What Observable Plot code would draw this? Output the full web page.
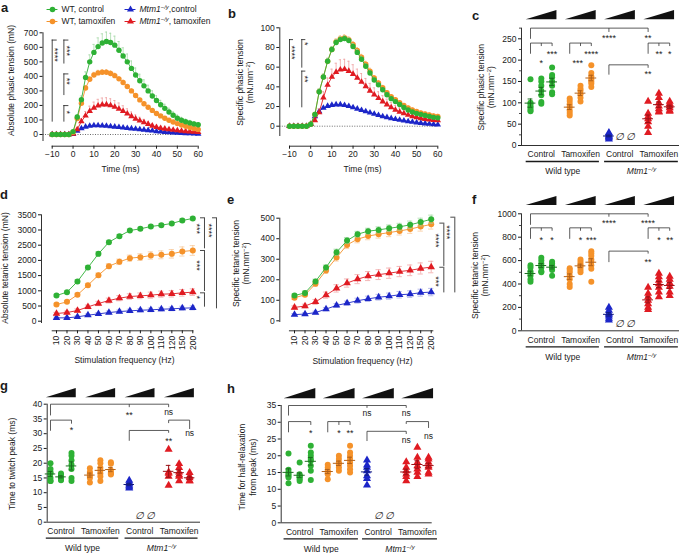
<!DOCTYPE html>
<html><head><meta charset="utf-8">
<script src="https://cdn.jsdelivr.net/npm/d3@7"></script>
<script src="https://cdn.jsdelivr.net/npm/@observablehq/plot@0.6"></script>
<style>
html,body{margin:0;padding:0;background:#fff;}
#fig{position:relative;width:679px;height:553px;overflow:hidden;background:#fff;font-family:"Liberation Sans",Arial,Helvetica,sans-serif;color:#1a1a1a;}
.letter{position:absolute;font-weight:bold;font-size:13px;line-height:normal;}
</style></head><body><div id="fig"></div>
<script>
// ================= DATA =================
const time=[-10,-8,-6,-4,-2,0,2,4,6,8,10,12,14,16,18,20,22,24,26,28,30,32,34,36,38,40,42,44,46,48,50,52,54,56,58,60];
// (a) absolute phasic tension, mN
const absWTctrl=[0,0,0,0,0,20,120,240,393,500,565,605,630,640,633,615,580,540,500,455,410,370,335,300,265,234,205,180,155,132,112,98,88,80,73,67];
const absWTctrlSem=[0,0,0,0,0,5,15,25,38,48,55,60,63,65,64,62,60,57,54,51,48,45,42,39,36,33,30,28,26,24,22,20,18,17,16,15];
const absWTtam=[0,0,0,0,0,15,110,215,320,380,410,424,428,428,420,405,383,358,330,300,268,238,212,188,166,145,128,112,98,86,75,65,56,48,41,35];
const absWTtamSem=[0,0,0,0,0,2,8,12,15,17,18,18,18,18,18,17,16,15,14,13,12,11,10,9,8,7,6,6,5,5,4,4,4,3,3,3];
const absKOctrl=[0,0,0,0,0,3,25,42,53,59,62,62,61,59,56,53,50,47,44,41,38,35,32,29,26,22,19,17,15,13,11,10,8,7,6,5];
const absKOctrlSem=[0,0,0,0,0,1,4,6,7,8,8,8,8,8,8,7,7,7,6,6,6,5,5,5,4,4,4,3,3,3,3,2,2,2,2,2];
const absKOtam=[0,0,0,0,0,5,35,90,130,160,183,198,205,206,200,190,176,160,143,125,108,95,83,72,60,50,44,39,35,31,28,25,22,20,18,16];
const absKOtamSem=[0,0,0,0,0,2,10,20,28,35,40,44,46,47,46,44,41,38,34,30,27,24,21,18,16,14,12,11,10,9,8,7,6,6,5,5];
// (b) specific phasic tension, mN.mm-2
const specWTctrl=[0,0,0,0,0,2,12,35,50,66,78,85,88,89,87,81,75,68,61,54,47,42,37,32,28,25,22,19,16.5,14.5,13,12,11,10,9,8.5];
const specWTctrlSem=[0,0,0,0,0,0.5,2,3,3,3,3,3,3,3,3,3,3,3,2.5,2.5,2.5,2,2,2,2,2,2,2,1.5,1.5,1.5,1.5,1.5,1.5,1.5,1.5];
const specWTtam=[0,0,0,0,0,2,12,35,50,66,78,86,89,90,88,83,77,70,63,56,49,44,39,34,30,27,24,21,18.5,16.5,15,13.5,12.5,11.5,10.5,10];
const specWTtamSem=[0,0,0,0,0,0.5,2,3,3,3,3,3,3,3,3,3,3,3,3,3,2.5,2.5,2.5,2,2,2,2,2,2,2,2,2,2,2,2,2];
const specKOctrl=[0,0,0,0,0,2,10,15,18.5,20.5,21.5,22,22,21.3,20.3,19,17.7,16.3,15,13.7,12.4,11.2,10,9,8,7.2,6.4,5.6,4.9,4.3,3.7,3.2,2.7,2.3,1.9,1.6];
const specKOctrlSem=[0,0,0,0,0,0.3,1,1.5,1.5,1.5,1.5,1.5,1.5,1.5,1.5,1.5,1.5,1.3,1.3,1.2,1.2,1.1,1,1,1,1,0.9,0.9,0.8,0.8,0.7,0.7,0.6,0.6,0.5,0.5];
const specKOtam=[0,0,0,0,0,2,6,14,29,42,50,55,57.5,58,56,53,49,45,40.5,36,32,28.5,25,22,19,16.5,14.5,13,11.5,10,9,8,7.3,6.7,6.2,5.8];
const specKOtamSem=[0,0,0,0,0,0.5,2,4,6,7,8,9,10,10,10,9.5,9,8.5,8,7.5,7,6.5,6,5.5,5,4.5,4,3.5,3,3,2.5,2.5,2,2,2,2];
// (d,e) tetanic tension vs stimulation frequency
const freqs=["10","20","30","40","50","60","70","80","90","100","110","120","150","200"];
const tetAbsWTctrl=[845,955,1306,1767,2216,2600,2798,2984,3039,3116,3160,3215,3314,3379];
const tetAbsWTctrlSem=[40,45,55,60,70,60,55,50,50,50,50,50,55,60];
const tetAbsWTtam=[549,636,867,1185,1514,1810,1953,2074,2107,2161,2183,2216,2293,2326];
const tetAbsWTtamSem=[40,45,55,60,70,80,90,100,110,120,130,140,150,160];
const tetAbsKOctrl=[110,110,143,198,241,285,318,340,362,373,395,406,428,439];
const tetAbsKOctrlSem=[25,30,35,40,45,50,50,55,55,60,60,60,65,65];
const tetAbsKOtam=[252,285,351,472,582,680,757,812,834,856,889,900,933,955];
const tetAbsKOtamSem=[40,45,55,60,70,80,85,90,95,100,100,105,110,110];
const tetSpecWTctrl=[123,136,192,260,334,391,422,437,443,451,458,468,481,495];
const tetSpecWTctrlSem=[8,9,11,12,15,15,14,14,15,16,17,18,19,20];
const tetSpecWTtam=[112,127,180,245,308,370,398,413,422,430,438,447,459,470];
const tetSpecWTtamSem=[8,9,12,14,17,18,18,18,19,20,20,21,22,23];
const tetSpecKOctrl=[30,33,40,57,75,86,98,107,115,120,127,130,137,140];
const tetSpecKOctrlSem=[5,6,7,8,9,10,12,13,14,15,16,16,17,18];
const tetSpecKOtam=[65,72,92,125,158,184,203,218,225,232,240,246,255,262];
const tetSpecKOtamSem=[8,9,12,15,18,20,22,22,24,25,25,26,27,28];
// (c) specific phasic tension per animal, 3 doses
const cWTctrl=[[155,100,97,92,88,83,80],[157,150,140,128,118,102,98],[183,165,160,150,140,125,120]];
const cWTtam=[[110,104,97,90,82,76,70],[140,133,128,120,112,103],[188,170,162,155,150,145,137]];
const cKOctrl=[[30,27,24,22,20,18,15]];
const cKOtam=[[103,75,68,62,55,45,30],[122,112,100,92,86,80,78],[103,98,93,88,82,80]];
// (f) specific tetanic tension
const fWTctrl=[[560,540,510,490,470,440,420],[625,600,575,555,540,510,500],[590,575,560,550,540,520,470]];
const fWTtam=[[535,520,500,470,440,400,375],[610,590,570,555,540,520,500],[680,660,640,610,590,560,530,420]];
const fKOctrl=[[200,175,150,140,125,105,90]];
const fKOtam=[[370,320,290,260,230,200,180],[490,460,430,400,370,330,290],[465,440,410,380,330,300]];
// (g) time to twitch peak, ms
const gWTctrl=[[20,18,17,16.5,15,14,14],[16.5,16,15.8,15.2,14.5,14.2],[23.5,22.5,21,19.5,18,15,14]];
const gWTtam=[[18.3,17,16.5,15.5,15,13.5],[21,20,18.5,17.5,16.5,15.5,14],[20.3,19.8,17.5,16.8,16.5,16.2]];
const gKOctrl=[[14.2,13.5,13,12.5,12,11.5]];
const gKOtam=[[24.7,17,16.5,15.5,12.5],[19.8,18.5,17,16,15.5,14],[16.8,15.5,15,14,14]];
// (h) time for half-relaxation, ms
const hWTctrl=[[20.7,15.8,15,14.5,14,13.5,11.8],[18,14.5,14,13.8,13.5,13,12.5],[23,21,20,19,18.5,17,15.5,12.8]];
const hWTtam=[[17.3,16.5,15.5,15,14.5,13],[20,19,18,17.5,16.5,15.5],[23,21,20,19,18,17,16,15]];
const hKOctrl=[[18.7,17.2,16.5,15.5,14,13.2,11.2]];
const hKOtam=[[18.2,16.5,15.5,14.5,13.8,12.5],[22.5,19.5,18,17,16,15,13.8],[19.5,19,18,17,16.5,15,14.5]];
// labels
const legendLabels=["WT, control","WT, tamoxifen","~{Mtm1}^~{−/y},control","~{Mtm1}^~{−/y}, tamoxifen"];
const treatLabels=["Control","Tamoxifen","Control","Tamoxifen"];
const genoLabels=["Wild type","~{Mtm1}^~{−/y}"];
// significance annotations (line panels: vertical brackets)
const aSig=[{x:-10,y1:650,y2:85,t:"****",ly:549},{x:-4.4,y1:650,y2:485,t:"***",ly:577},{x:-4.4,y1:417,y2:268,t:"**",ly:366},{x:-4.4,y1:199,y2:85,t:"*",ly:153}];
const bSig=[{x:-10,y1:88,y2:18.7,t:"****",ly:75},{x:-4.2,y1:88,y2:59,t:"*",ly:83.7},{x:-4.2,y1:56,y2:18.7,t:"**",ly:48}];
const dSig=[{x:14.115,y1:3401,y2:2381,t:"***",ly:3039},{x:14.115,y1:2326,y2:977,t:"***",ly:1832},{x:14.115,y1:933,y2:461,t:"*",ly:790},{x:15.26,y1:3401,y2:406,t:"****",ly:2984}];
const eSig=[{x:14.2,y1:476,y2:265,t:"****",ly:391},{x:14.2,y1:261,y2:136,t:"***",ly:192},{x:15.245,y1:505,y2:136,t:"****",ly:432}];
// scatter panels: brackets [group,dose]
const cBr=[{a:[0,0],b:[3,0],y:275,ya:250,yb:266,mids:[[2,0]],ym:266},{a:[0,0],b:[0,2],y:240,ya:215,yb:233,mids:[[0,1]],ym:233},{a:[1,0],b:[1,2],y:240,ya:215,yb:233,mids:[[1,1]],ym:233},{a:[2,0],b:[3,0],y:189,ya:166,yb:182},{a:[3,0],b:[3,2],y:240,ya:215,yb:233,mids:[[3,1]],ym:233}];
const cStars=[{at:[2,0],y:258,t:"****"},{at:[3,0],y:258,t:"**"},{at:[0,1],y:199,t:"*"},{at:[0,2],y:219,t:"***"},{at:[1,0.75],y:199,t:"***"},{at:[1,2],y:219,t:"****"},{at:[3,0],y:172,t:"**"},{at:[3,1],y:219,t:"**"},{at:[3,2],y:219,t:"*"}];
const fBr=[{a:[0,0],b:[3,0],y:1000,ya:906,yb:975,mids:[[2,0]],ym:975},{a:[0,0],b:[0,2],y:880,ya:786,yb:855,mids:[[0,1]],ym:855},{a:[1,0],b:[1,2],y:880,ya:786,yb:855,mids:[[1,1]],ym:855},{a:[2,0],b:[3,0],y:681,ya:587,yb:660},{a:[3,0],b:[3,2],y:880,ya:786,yb:855,mids:[[3,1]],ym:855}];
const fStars=[{at:[2,0],y:945,t:"****"},{at:[3,0],y:945,t:"****"},{at:[0,1],y:800,t:"*"},{at:[0,2],y:800,t:"*"},{at:[1,1],y:800,t:"*"},{at:[1,2],y:800,t:"***"},{at:[3,0],y:610,t:"**"},{at:[3,1],y:800,t:"*"},{at:[3,2],y:800,t:"**"}];
const gBr=[{a:[0,0],b:[3,0],y:40,ya:36.2,yb:39,mids:[[2,0]],ym:39},{a:[0,0],b:[0,2],y:34.6,ya:31,yb:33.4},{a:[2,0],b:[3,0],y:31.1,ya:27.6,yb:30.3},{a:[3,0],b:[3,2],y:34.6,ya:33.6,yb:31.6}];
const gStars=[{at:[2,0],y:37.3,t:"**"},{at:[3,0],y:37.3,t:"ns"},{at:[0,2],y:32.1,t:"*"},{at:[3,0],y:28.4,t:"**"},{at:[3,2],y:30,t:"ns"}];
const hBr=[{a:[0,0],b:[3,0],y:35,ya:32,yb:34.3,mids:[[2,0]],ym:34.3},{a:[0,0],b:[0,2],y:30.2,ya:27,yb:29.2},{a:[1,0],b:[1,2],y:30.2,ya:27,yb:29.2,mids:[[1,1]],ym:29.2},{a:[2,0],b:[3,0],y:27.3,ya:24.4,yb:26.5},{a:[3,0],b:[3,2],y:30.2,ya:29.5,yb:28.3}];
const hStars=[{at:[2,0],y:32.6,t:"ns"},{at:[3,0],y:32.6,t:"ns"},{at:[0,2],y:27.6,t:"*"},{at:[1,1],y:27.6,t:"*"},{at:[1,2],y:27.6,t:"**"},{at:[3,0],y:24.6,t:"ns"},{at:[3,2],y:25.8,t:"ns"}];

// ================= STYLE / HELPERS =================
const GREEN="#2eb135",ORANGE="#f5922a",RED="#e01b22",BLUE="#1c26c8";
const LOOK={
  WTctrl:{color:GREEN,light:"#9fd6a0",dark:"#1b6e1f",symbol:"circle"},
  WTtam:{color:ORANGE,light:"#f7c28c",dark:"#b0601a",symbol:"circle"},
  KOctrl:{color:BLUE,light:"#9ea2e2",dark:"#111a7c",symbol:"triangle"},
  KOtam:{color:RED,light:"#ee9a9a",dark:"#9a1016",symbol:"triangle"}};
const GROUPS=["WTctrl","WTtam","KOctrl","KOtam"];
const INK="#1a1a1a";
const FONT='"Liberation Sans", Arial, Helvetica, sans-serif';
const STYLE={background:"transparent",overflow:"visible",fontFamily:FONT,fontSize:"8.5px",color:INK};
const SVGNS="http://www.w3.org/2000/svg";
const fig=document.getElementById("fig");
const lin=(a,b)=>p=>a[1]+(p-a[0])*(b[1]-a[1])/(b[0]-a[0]);

function richText(root){
  const re=/(\^~|\^|~)\{([^}]*)\}/g;
  root.querySelectorAll("text,tspan").forEach(node=>{
    if(node.childElementCount) return;
    const s=node.textContent; if(!/[\^~]\{/.test(s)) return;
    node.textContent="";
    let last=0,m,raised=false;
    const add=(txt,o)=>{
      const t=document.createElementNS(SVGNS,"tspan"); t.textContent=txt;
      if(o.italic) t.setAttribute("font-style","italic");
      if(o.sup){t.setAttribute("font-size","70%"); if(!raised){t.setAttribute("dy","-0.5em");raised=true;}}
      else if(raised){t.setAttribute("dy","0.35em");raised=false;}
      node.appendChild(t);
    };
    re.lastIndex=0;
    while((m=re.exec(s))){
      if(m.index>last) add(s.slice(last,m.index),{});
      add(m[2],{italic:m[1].includes("~"),sup:m[1].startsWith("^")});
      last=re.lastIndex;
    }
    if(last<s.length) add(s.slice(last),{});
  });
}
function mount(svg,left,top){svg.style.position="absolute";svg.style.left=left+"px";svg.style.top=top+"px";fig.appendChild(svg);richText(svg);}
function letter(ch,left,top){const d=document.createElement("div");d.className="letter";d.textContent=ch;d.style.left=left+"px";d.style.top=top+"px";fig.appendChild(d);}

function seriesMarks(xs,v,e,lk,r,cap,twoSided){
  const rows=xs.map((x,i)=>({x,v:v[i],e:e[i]}));
  const m=[
    Plot.ruleX(rows,{x:"x",y1:d=>twoSided?d.v-d.e:d.v,y2:d=>d.v+d.e,stroke:lk.light,strokeWidth:0.7}),
    Plot.ruleY(rows,{y:d=>d.v+d.e,x1:d=>d.x-cap,x2:d=>d.x+cap,stroke:lk.light,strokeWidth:0.7})];
  if(twoSided) m.push(Plot.ruleY(rows,{y:d=>d.v-d.e,x1:d=>d.x-cap,x2:d=>d.x+cap,stroke:lk.light,strokeWidth:0.7}));
  m.push(Plot.line(rows,{x:"x",y:"v",stroke:lk.color,strokeWidth:0.9}));
  m.push(Plot.dot(rows,{x:"x",y:"v",fill:lk.color,symbol:lk.symbol,r}));
  return m;
}
function vBrackets(list,tick,lab){
  return [
    Plot.ruleX(list,{x:"x",y1:"y1",y2:"y2",stroke:INK,strokeWidth:0.8}),
    Plot.ruleY(list,{y:"y1",x1:"x",x2:d=>d.x+tick,stroke:INK,strokeWidth:0.8}),
    Plot.text(list,{x:d=>d.x+lab,y:"ly",text:"t",rotate:90,fontSize:9})];
}
function yTitles(lines,x,y){return lines.map(l=>Plot.text([l.t],{x,y,text:d=>d,rotate:-90,dx:l.dx,fontSize:8.5}));}

// ---------- line panel ----------
function linePanel(c){
  const fx=lin(c.xa,c.xb), fy=lin(c.ya,c.yb);
  const xd=[fx(c.fl),fx(c.fr)], yd=[fy(c.fb),fy(c.ft)];
  const marks=[];
  if(c.zero) marks.push(Plot.ruleY([0],{x1:xd[0],x2:c.xLine[1],stroke:"#444",strokeWidth:0.8,strokeDasharray:"1 1.5"}));
  ["KOctrl","KOtam","WTtam","WTctrl"].forEach(k=>{
    const s=c.series[k]; const lk=LOOK[k];
    marks.push(...seriesMarks(c.xs,s.v,s.e,lk,lk.symbol==="circle"?c.rc:c.rt,c.cap,c.twoSided));
  });
  marks.push(Plot.ruleX([xd[0]],{y1:fy(c.yLineBottomPx),y2:c.yTop,stroke:INK,strokeWidth:0.9}));
  marks.push(Plot.ruleY([yd[0]],{x1:c.xLine[0],x2:c.xLine[1],stroke:INK,strokeWidth:0.9}));
  marks.push(...vBrackets(c.sig,c.tick,c.lab));
  marks.push(...yTitles(c.titles,xd[0],fy(c.titleYpx)));
  marks.push(Plot.text([c.xTitle],{x:fx(c.xTitlePx),y:yd[0],dy:c.xTitleDy,text:d=>d,fontSize:8.5}));
  const svg=Plot.plot({width:c.W,height:c.H,marginLeft:c.fl,marginRight:c.W-c.fr,marginTop:c.ft,marginBottom:c.H-c.fb,
    x:{domain:xd,ticks:c.xTicks,tickFormat:c.xFormat,tickRotate:c.xRotate||0,tickSize:3,tickPadding:2,label:null},
    y:{domain:yd,ticks:c.yTicks,tickFormat:"d",tickSize:3,tickPadding:2,label:null},
    style:STYLE,marks});
  mount(svg,c.left,c.top);
}

// ---------- scatter panel ----------
function scatterPanel(c){
  const pos=(g,k)=>g*c.step+k;
  const fx=p=>(p-c.x0)/c.unit, fy=lin(c.ya,c.yb);
  const xd=[fx(c.fl),fx(c.fr)], yd=[fy(c.fb),fy(c.ft)];
  const ppu=(c.fb-c.ft)/(yd[1]-yd[0]);
  const marks=[];
  marks.push(Plot.ruleX([xd[0]],{y1:0,y2:c.yTop,stroke:INK,strokeWidth:0.9}));
  marks.push(Plot.ruleY([0],{x1:xd[0],x2:fx(c.axisEndPx),stroke:INK,strokeWidth:0.9}));
  if(c.yMinor) marks.push(Plot.ruleY(c.yMinor,{x1:xd[0],x2:xd[0]-2/c.unit,stroke:INK,strokeWidth:0.8}));
  const yb=yd[1]+c.wedgeGap/ppu, yt=yb+c.wedgeH/ppu;
  const wedges=[0,1,2,3].flatMap(g=>[{id:g,x:pos(g,0)-0.4,y1:yb,y2:yb},{id:g,x:pos(g,0)+2.45,y1:yb,y2:yt}]);
  marks.push(Plot.area(wedges,{x1:"x",y1:"y1",y2:"y2",z:"id",fill:"#111"}));
  c.groups.forEach((vals,g)=>{
    const lk=LOOK[GROUPS[g]];
    const rows=vals.flatMap((arr,k)=>arr.map(v=>({x:pos(g,k),v})));
    marks.push(Plot.dot(rows,{x:"x",y:"v",fill:lk.color,symbol:lk.symbol,r:3}));
    const st=vals.map((arr,k)=>({x:pos(g,k),m:d3.mean(arr),s:d3.deviation(arr)/Math.sqrt(arr.length)}));
    marks.push(Plot.ruleY(st,{y:"m",x1:d=>d.x-0.5,x2:d=>d.x+0.5,stroke:lk.dark,strokeWidth:1}));
    marks.push(Plot.ruleX(st,{x:"x",y1:d=>d.m-d.s,y2:d=>d.m+d.s,stroke:lk.dark,strokeWidth:1}));
    marks.push(Plot.ruleY(st,{y:d=>d.m+d.s,x1:d=>d.x-0.22,x2:d=>d.x+0.22,stroke:lk.dark,strokeWidth:1}));
    marks.push(Plot.ruleY(st,{y:d=>d.m-d.s,x1:d=>d.x-0.22,x2:d=>d.x+0.22,stroke:lk.dark,strokeWidth:1}));
  });
  marks.push(Plot.text([1,2],{x:k=>pos(2,k),y:c.emptyY,text:()=>"∅",fontSize:10,fontStyle:"italic"}));
  const segs=[];
  c.brackets.forEach(d=>{
    const xa=pos(...d.a), xb=pos(...d.b);
    segs.push({x1:xa,x2:xb,y1:d.y,y2:d.y},{x1:xa,x2:xa,y1:d.y,y2:d.ya},{x1:xb,x2:xb,y1:d.y,y2:d.yb});
    (d.mids||[]).forEach(mm=>{const xm=pos(...mm);segs.push({x1:xm,x2:xm,y1:d.y,y2:d.ym});});
  });
  marks.push(Plot.link(segs,{x1:"x1",x2:"x2",y1:"y1",y2:"y2",stroke:"#333",strokeWidth:0.8}));
  marks.push(Plot.text(c.stars.filter(d=>d.t!=="ns"),{x:d=>pos(...d.at),y:"y",text:"t",fontSize:9,dy:2.5}));
  marks.push(Plot.text(c.stars.filter(d=>d.t==="ns"),{x:d=>pos(...d.at),y:"y",text:"t",fontSize:8.5}));
  marks.push(Plot.text(treatLabels,{x:(d,i)=>pos(i,1),y:0,dy:9,text:d=>d,fontSize:8.5}));
  const ul=[{x1:pos(0,0)-0.4,x2:pos(1,2)+0.75,t:genoLabels[0]},{x1:pos(2,0)-0.4,x2:pos(3,2)+0.8,t:genoLabels[1]}];
  marks.push(Plot.ruleY(ul,{y:0,x1:"x1",x2:"x2",dy:16,stroke:INK,strokeWidth:1.3}));
  marks.push(Plot.text(ul,{x:d=>(d.x1+d.x2)/2,y:0,dy:26,text:"t",fontSize:8.5}));
  marks.push(...yTitles(c.titles,xd[0],fy(c.titleYpx)));
  const svg=Plot.plot({width:c.W,height:c.H,marginLeft:c.fl,marginRight:c.W-c.fr,marginTop:c.ft,marginBottom:c.H-c.fb,
    x:{domain:xd,axis:null},
    y:{domain:yd,ticks:c.yTicks,tickFormat:"d",tickSize:3,tickPadding:2,label:null},
    style:STYLE,marks});
  mount(svg,c.left,c.top);
}

// ================= PANELS =================
// a
linePanel({left:0,top:0,W:225,H:185,fl:42.5,fr:200,ft:32.3,fb:145.7,
  xa:[51.7,-10],xb:[197.7,60],ya:[134,0],yb:[32.3,700],
  xs:time,series:{WTctrl:{v:absWTctrl,e:absWTctrlSem},WTtam:{v:absWTtam,e:absWTtamSem},KOctrl:{v:absKOctrl,e:absKOctrlSem},KOtam:{v:absKOtam,e:absKOtamSem}},
  rc:2.7,rt:2.4,cap:0.5,twoSided:false,zero:true,
  xTicks:[-10,0,10,20,30,40,50,60],xFormat:"d",yTicks:[0,100,200,300,400,500,600,700],
  yLineBottomPx:141,yTop:700,xLine:[-10,60],sig:aSig,tick:2.4,lab:1.5,
  titles:[{t:"Absolute phasic tension (mN)",dx:-32}],titleYpx:80,xTitle:"Time (ms)",xTitlePx:120,xTitleDy:23});
// b
linePanel({left:225,top:0,W:225,H:185,fl:54.3,fr:215,ft:27.3,fb:145.7,
  xa:[64,-10],xb:[212.3,60],ya:[125.7,0],yb:[27.3,100],
  xs:time,series:{WTctrl:{v:specWTctrl,e:specWTctrlSem},WTtam:{v:specWTtam,e:specWTtamSem},KOctrl:{v:specKOctrl,e:specKOctrlSem},KOtam:{v:specKOtam,e:specKOtamSem}},
  rc:2.7,rt:2.4,cap:0.5,twoSided:false,zero:true,
  xTicks:[-10,0,10,20,30,40,50,60],xFormat:"d",yTicks:[0,20,40,60,80,100],
  yLineBottomPx:136,yTop:100,xLine:[-10,60],sig:bSig,tick:1.9,lab:1.3,
  titles:[{t:"Specific phasic tension",dx:-39.5},{t:"(mN.mm^{−2})",dx:-29.5}],titleYpx:82,xTitle:"Time (ms)",xTitlePx:137,xTitleDy:23.5});
// d
linePanel({left:0,top:185,W:225,H:185,fl:41,fr:200,ft:29.3,fb:145.3,
  xa:[56,0],xb:[192.3,13],ya:[135.7,0],yb:[29.3,3500],
  xs:freqs.map((f,i)=>i),series:{WTctrl:{v:tetAbsWTctrl,e:tetAbsWTctrlSem},WTtam:{v:tetAbsWTtam,e:tetAbsWTtamSem},KOctrl:{v:tetAbsKOctrl,e:tetAbsKOctrlSem},KOtam:{v:tetAbsKOtam,e:tetAbsKOtamSem}},
  rc:3,rt:2.8,cap:0.25,twoSided:true,zero:false,
  xTicks:freqs.map((f,i)=>i),xFormat:i=>freqs[i],xRotate:-90,yTicks:[0,500,1000,1500,2000,2500,3000,3500],
  yLineBottomPx:138,yTop:3500,xLine:[-0.41,13.1],sig:dSig,tick:-0.38,lab:-0.7,
  titles:[{t:"Absolute tetanic tension (mN)",dx:-36}],titleYpx:82.5,xTitle:"Stimulation frequency (Hz)",xTitlePx:124,xTitleDy:29.7});
// e
linePanel({left:225,top:185,W:225,H:185,fl:54.3,fr:215,ft:32.7,fb:145.3,
  xa:[69,0],xb:[205.7,13],ya:[135.3,0],yb:[32.7,500],
  xs:freqs.map((f,i)=>i),series:{WTctrl:{v:tetSpecWTctrl,e:tetSpecWTctrlSem},WTtam:{v:tetSpecWTtam,e:tetSpecWTtamSem},KOctrl:{v:tetSpecKOctrl,e:tetSpecKOctrlSem},KOtam:{v:tetSpecKOtam,e:tetSpecKOtamSem}},
  rc:3,rt:2.8,cap:0.25,twoSided:true,zero:false,
  xTicks:freqs.map((f,i)=>i),xFormat:i=>freqs[i],xRotate:-90,yTicks:[0,100,200,300,400,500],
  yLineBottomPx:137,yTop:500,xLine:[-0.48,13.25],sig:eSig,tick:-0.38,lab:-0.8,
  titles:[{t:"Specific tetanic tension",dx:-43.6},{t:"(mN.mm^{−2})",dx:-33.6}],titleYpx:78,xTitle:"Stimulation frequency (Hz)",xTitlePx:137,xTitleDy:30.7});
// c
scatterPanel({left:450,top:0,W:229,H:185,fl:71,fr:229,ft:27.3,fb:145,x0:80,unit:10.8,step:3.63,
  ya:[145,0],yb:[38.3,250],yTicks:[0,50,100,150,200,250],yMinor:[25,75,125,175,225,275],yTop:275,axisEndPx:229,
  groups:[cWTctrl,cWTtam,cKOctrl,cKOtam],brackets:cBr,stars:cStars,emptyY:20,wedgeGap:8,wedgeH:9.3,
  titles:[{t:"Specific phasic tension",dx:-40.3},{t:"(mN.mm^{−2})",dx:-30.3}],titleYpx:86.7});
// f
scatterPanel({left:450,top:185,W:229,H:185,fl:71,fr:229,ft:28.3,fb:145.3,x0:80,unit:10.8,step:3.63,
  ya:[145.3,0],yb:[28.3,1000],yTicks:[0,200,400,600,800,1000],yMinor:[100,300,500,700,900],yTop:1000,axisEndPx:229,
  groups:[fWTctrl,fWTtam,fKOctrl,fKOtam],brackets:fBr,stars:fStars,emptyY:60,wedgeGap:8.3,wedgeH:9,
  titles:[{t:"Specific tetanic tension",dx:-46},{t:"(mN.mm^{−2})",dx:-36}],titleYpx:90});
// g
scatterPanel({left:0,top:370,W:225,H:183,fl:46.7,fr:205,ft:33.7,fb:151.7,x0:50,unit:10.5,step:3.75,
  ya:[151.7,0],yb:[33.7,40],yTicks:[0,5,10,15,20,25,30,35,40],yMinor:null,yTop:40,axisEndPx:200,
  groups:[gWTctrl,gWTtam,gKOctrl,gKOtam],brackets:gBr,stars:gStars,emptyY:2.3,wedgeGap:6.4,wedgeH:9.3,
  titles:[{t:"Time to twitch peak (ms)",dx:-35}],titleYpx:93.3});
// h
scatterPanel({left:225,top:370,W:225,H:183,fl:55.7,fr:215,ft:35,fb:152.3,x0:63,unit:11.15,step:3.52,
  ya:[152.3,0],yb:[35,35],yTicks:[0,5,10,15,20,25,30,35],yMinor:null,yTop:35,axisEndPx:206.7,
  groups:[hWTctrl,hWTtam,hKOctrl,hKOtam],brackets:hBr,stars:hStars,emptyY:2.2,wedgeGap:6.7,wedgeH:10.3,
  titles:[{t:"Time for half-relaxation",dx:-39},{t:"from peak (ms)",dx:-28.4}],titleYpx:96.7});

// legend (top of panel a)
{
  const items=legendLabels.map((t,i)=>({t,col:i<2?0:1,row:i%2,lk:LOOK[["WTctrl","WTtam","KOctrl","KOtam"][i]]}));
  const marks=[];
  items.forEach(d=>{
    marks.push(Plot.ruleY([d],{y:"row",x1:e=>e.col-0.07,x2:e=>e.col+0.07,stroke:d.lk.color,strokeWidth:1}));
    marks.push(Plot.dot([d],{x:"col",y:"row",fill:d.lk.color,symbol:d.lk.symbol,r:d.lk.symbol==="circle"?2.8:2.6}));
  });
  marks.push(Plot.text(items,{x:"col",y:"row",text:"t",textAnchor:"start",dx:9,fontSize:8.5}));
  const svg=Plot.plot({width:225,height:30,marginLeft:0,marginRight:0,marginTop:0,marginBottom:0,
    x:{domain:[0,1],range:[52,130],axis:null},y:{domain:[0,1],range:[9,21],axis:null},style:STYLE,marks});
  mount(svg,0,0);
}

// panel letters
letter("a",1,0);letter("b",228,6.2);letter("c",472,8.2);
letter("d",0,186.5);letter("e",227,191.5);letter("f",472,191.5);
letter("g",0,378.2);letter("h",227,380.9);
</script></body></html>
